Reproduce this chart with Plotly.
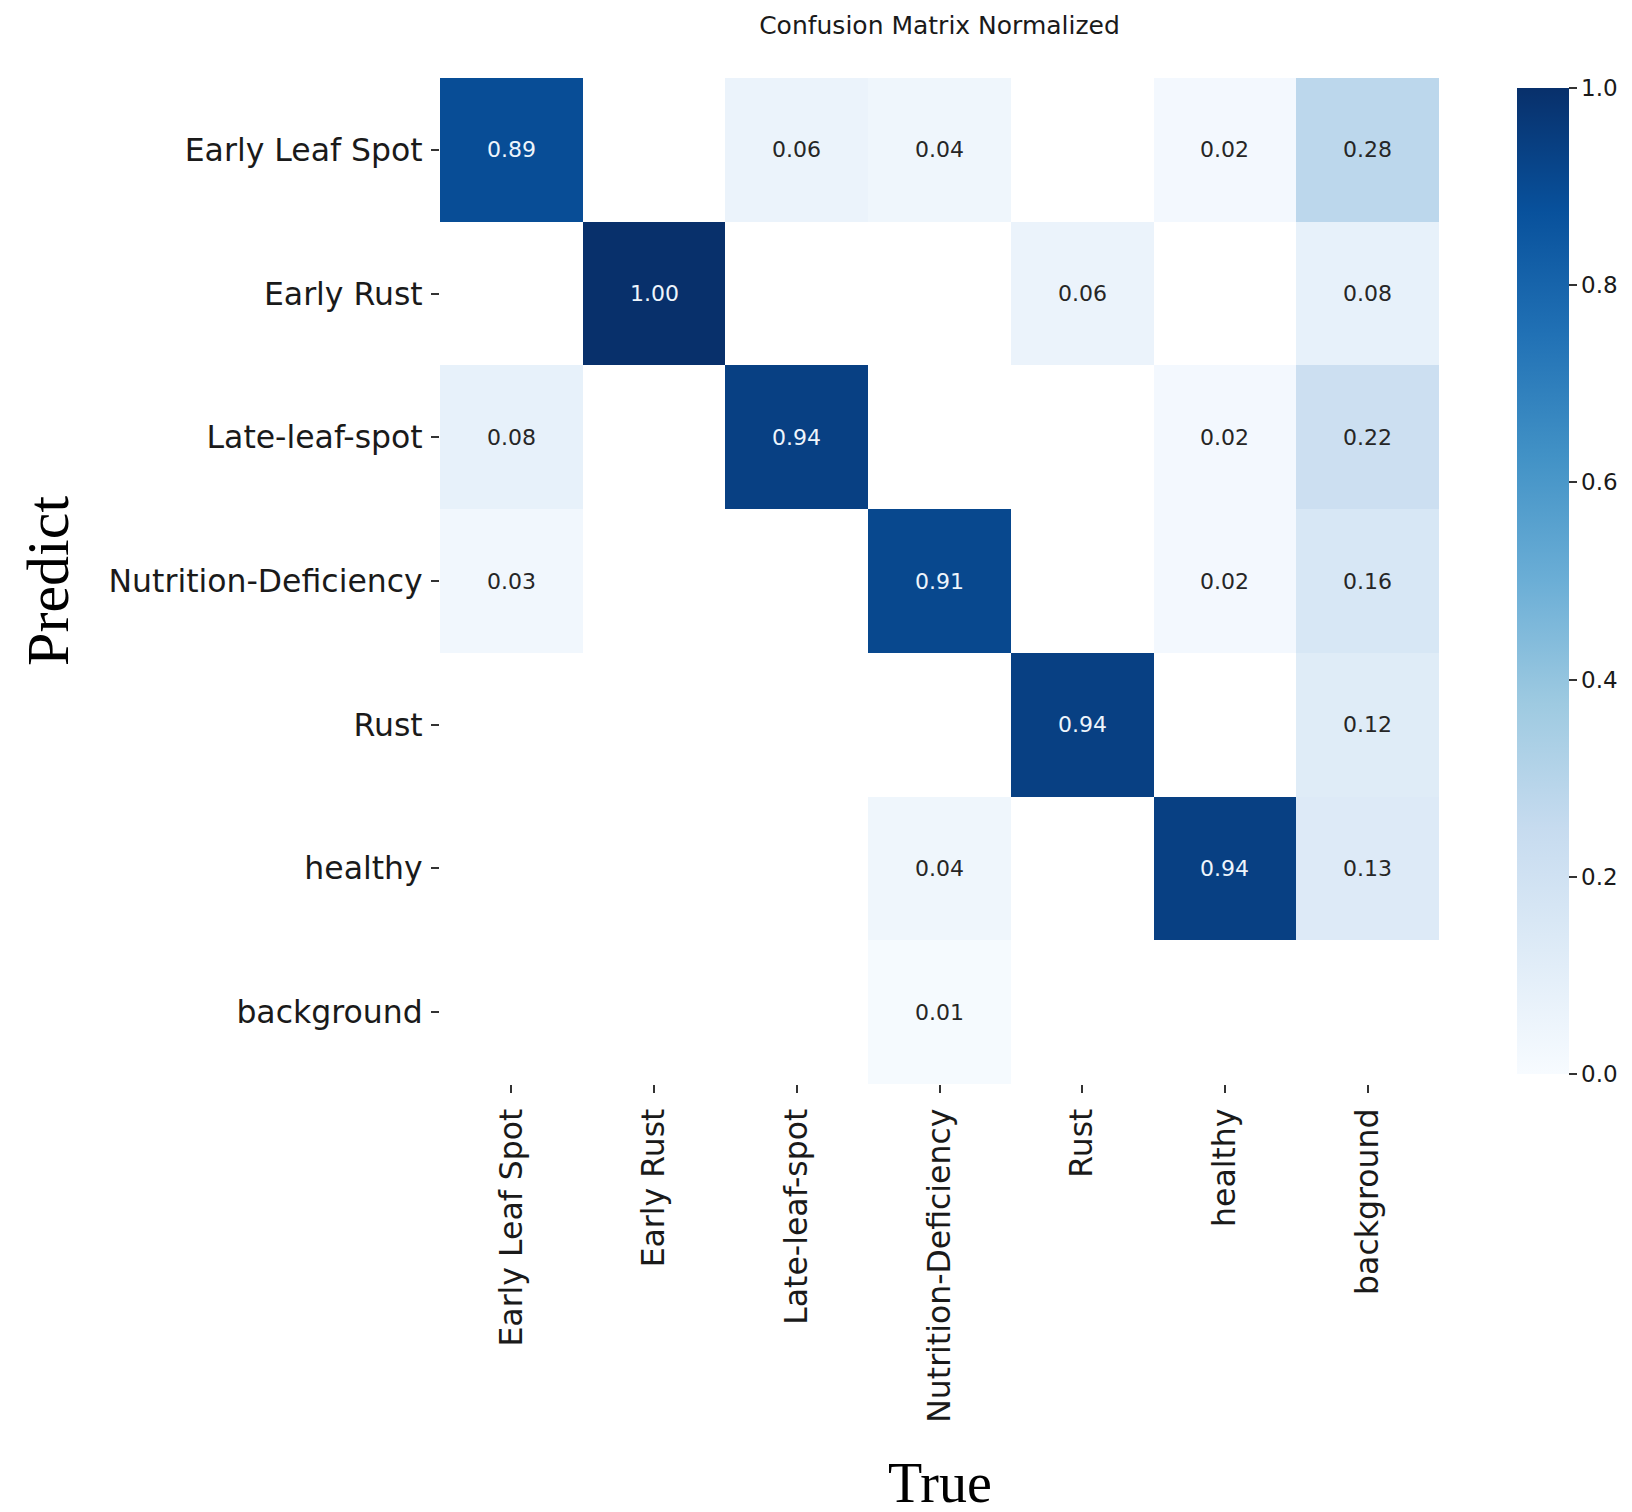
import plotly.graph_objects as go

classes = ["Early Leaf Spot", "Early Rust", "Late-leaf-spot", "Nutrition-Deficiency",
           "Rust", "healthy", "background"]

# rows = Predict, columns = True ; None = blank (zero) cell
row_early_leaf_spot = [0.89, None, 0.06, 0.04, None, 0.02, 0.28]
row_early_rust = [None, 1.00, None, None, 0.06, None, 0.08]
row_late_leaf_spot = [0.08, None, 0.94, None, None, 0.02, 0.22]
row_nutrition_deficiency = [0.03, None, None, 0.91, None, 0.02, 0.16]
row_rust = [None, None, None, None, 0.94, None, 0.12]
row_healthy = [None, None, None, 0.04, None, 0.94, 0.13]
row_background = [None, None, None, 0.01, None, None, None]

z = [row_early_leaf_spot, row_early_rust, row_late_leaf_spot, row_nutrition_deficiency,
     row_rust, row_healthy, row_background]

blues = [[0.0, "#f7fbff"], [0.125, "#deebf7"], [0.25, "#c6dbef"], [0.375, "#9ecae1"],
         [0.5, "#6baed6"], [0.625, "#4292c6"], [0.75, "#2171b5"], [0.875, "#08519c"],
         [1.0, "#08306b"]]

fig = go.Figure(go.Heatmap(
    z=z, x=classes, y=classes, zmin=0, zmax=1, colorscale=blues,
    hoverongaps=False,
    colorbar=dict(
        x=1.068, xanchor="left", xref="paper", y=0.5, yanchor="middle",
        len=1, lenmode="fraction", thickness=52, thicknessmode="pixels",
        outlinewidth=0, tick0=0, dtick=0.2, tickformat=".1f",
        ticks="outside", ticklen=8, tickwidth=1.5, tickcolor="#333333",
        tickfont=dict(family="DejaVu Sans", size=23, color="#1a1a1a"),
    ),
))

annotations = []
for i, row in enumerate(z):
    for j, v in enumerate(row):
        if v is None:
            continue
        annotations.append(dict(
            x=classes[j], y=classes[i], xref="x", yref="y", text=f"{v:.2f}",
            showarrow=False,
            font=dict(family="DejaVu Sans", size=22,
                      color="#eef5fc" if v > 0.5 else "#262626"),
        ))

annotations.append(dict(x=0.5, y=-0.397, xref="paper", yref="paper", text="True",
                        showarrow=False, xanchor="center", yanchor="middle",
                        font=dict(family="Liberation Serif", size=56, color="#000000")))
annotations.append(dict(x=-0.3925, y=0.5, xref="paper", yref="paper", text="Predict",
                        showarrow=False, xanchor="center", yanchor="middle", textangle=-90,
                        borderpad=0,
                        font=dict(family="Liberation Serif", size=60, color="#000000")))

fig.update_layout(
    width=1632, height=1512,
    margin=dict(l=432, r=191, t=70, b=436),
    paper_bgcolor="white", plot_bgcolor="white",
    title=dict(text="Confusion Matrix Normalized", x=0.5, xref="paper", xanchor="center",
               y=1 - 17 / 1512, yref="container", yanchor="middle",
               font=dict(family="DejaVu Sans", size=25, color="#1a1a1a")),
    annotations=annotations,
    showlegend=False,
)
fig.update_xaxes(type="category", tickangle=-90, showgrid=False, zeroline=False,
                 showline=False, ticks="outside", ticklen=8, tickwidth=1.5,
                 tickcolor="#333333", ticklabelstandoff=3,
                 tickfont=dict(family="DejaVu Sans", size=31.5, color="#1a1a1a"))
fig.update_yaxes(type="category", autorange="reversed", showgrid=False, zeroline=False,
                 showline=False, ticks="outside", ticklen=8, tickwidth=1.5,
                 tickcolor="#333333", ticklabelstandoff=2,
                 tickfont=dict(family="DejaVu Sans", size=31.5, color="#1a1a1a"))

fig.write_html("out.html")
